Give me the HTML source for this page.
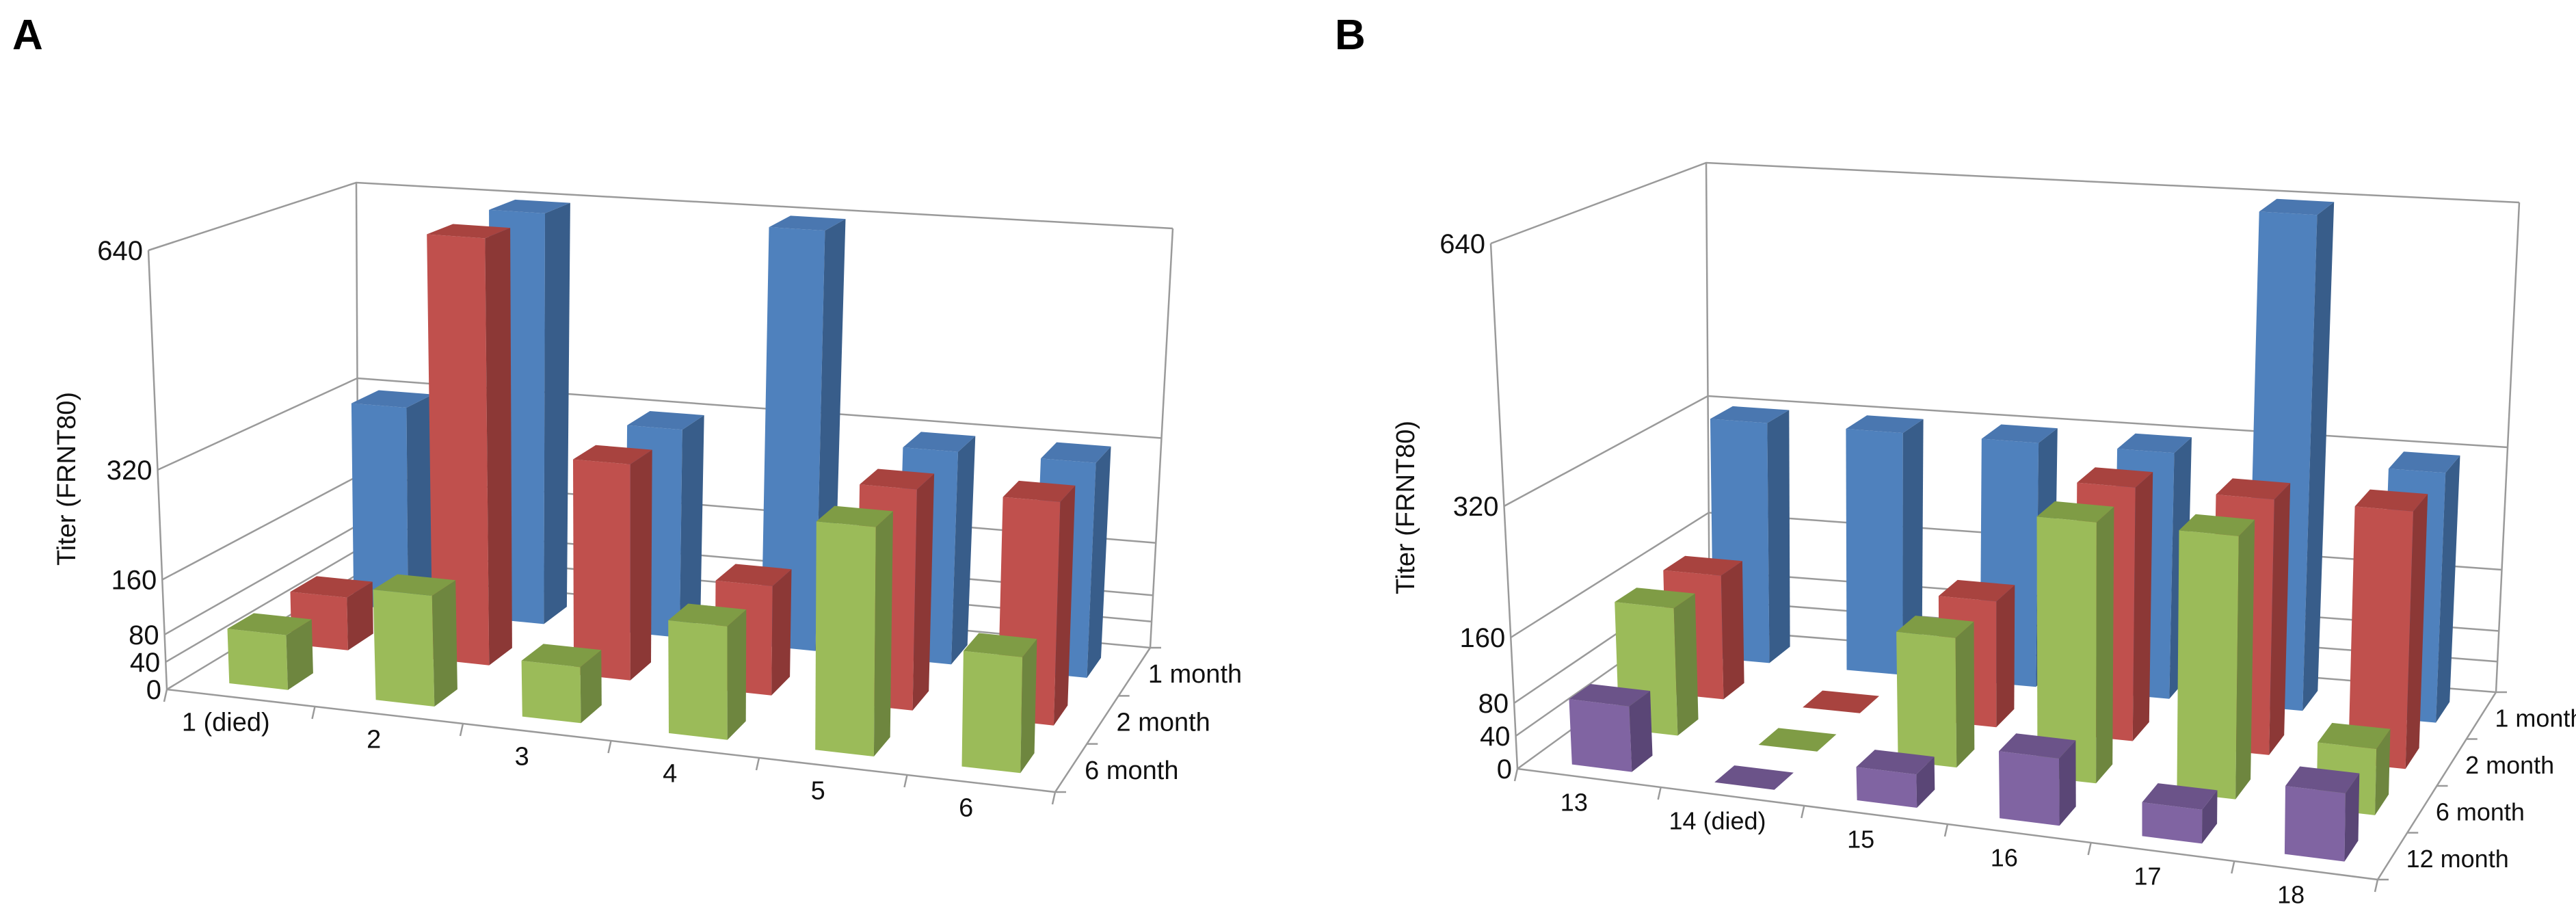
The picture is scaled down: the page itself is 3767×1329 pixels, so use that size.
<!DOCTYPE html>
<html><head><meta charset="utf-8"><style>
html,body{margin:0;padding:0;background:#fff;}
svg{display:block;font-family:"Liberation Sans",Arial,sans-serif;}
</style></head><body>
<svg id="chart" xmlns="http://www.w3.org/2000/svg" width="3767" height="1329" viewBox="0 0 3767 1329">
<rect width="3767" height="1329" fill="#fff"/>
<text x="18" y="72" font-size="62" font-weight="bold">A</text>
<text x="1952" y="72" font-size="62" font-weight="bold">B</text>
<text transform="translate(110,700) rotate(-90)" text-anchor="middle" font-size="38" fill="#111">Titer (FRNT80)</text>
<text transform="translate(2068,742) rotate(-90)" text-anchor="middle" font-size="38" fill="#111">Titer (FRNT80)</text>
<g id="pa"></g>
<g id="pb"></g>
</svg>
<script>
const ticksA = [0, 40, 80, 160, 320, 640];
const catsA = ["1 (died)", "2", "3", "4", "5", "6"];
const rowsA = ["6 month", "2 month", "1 month"];
const greenA = [80, 160, 80, 160, 320, 160];
const redA = [80, 640, 320, 160, 320, 320];
const blueA = [320, 640, 320, 640, 320, 320];

const ticksB = [0, 40, 80, 160, 320, 640];
const catsB = ["13", "14  (died)", "15", "16", "17", "18"];
const rowsB = ["12 month", "6 month", "2 month", "1 month"];
const purpleB = [80, 0, 40, 80, 40, 80];
const greenB = [160, 0, 160, 320, 320, 80];
const redB = [160, 0, 160, 320, 320, 320];
const blueB = [320, 320, 320, 320, 640, 320];

const NS = "http://www.w3.org/2000/svg";
const COLORS = {
  blue: ["#4F81BD", "#385D8A", "#4A77B0"],
  red: ["#C0504D", "#8C3836", "#A8433F"],
  green: ["#9BBB59", "#6E863F", "#7F9C45"],
  purple: ["#8064A2", "#5A4676", "#6B5389"]
};

function mk(parent, tag, attrs) {
  const el = document.createElementNS(NS, tag);
  for (const k in attrs) el.setAttribute(k, attrs[k]);
  parent.appendChild(el);
  return el;
}
function lerp(a, b, t) { return [a[0] + (b[0] - a[0]) * t, a[1] + (b[1] - a[1]) * t]; }
function bil(g, p, u, z) {
  const f = lerp(g[p + "F0"], g[p + "F1"], u), b = lerp(g[p + "B0"], g[p + "B1"], u);
  return lerp(f, b, z);
}
function proj(g, u, z, val) {
  const fl = bil(g, "", u, z), tp = bil(g, "T", u, z);
  return lerp(fl, tp, val / g.max);
}
function pts(a) { return a.map(p => p[0].toFixed(1) + "," + p[1].toFixed(1)).join(" "); }

function drawPanel(gid, g, ticks, cats, rows, series, seriesColors, key, W, D, fs) {
  const root = document.getElementById(gid);
  const grid = mk(root, "g", {stroke: "#9a9a9a", "stroke-width": 2.5, fill: "none"});
  
  
  ticks.forEach(t => {
    const l1 = mk(grid, "polyline", {points: pts([proj(g, 0, 0, t), proj(g, 0, 1, t), proj(g, 1, 1, t)])});
    
    
  });
  [[0, 0], [0, 1], [1, 1]].forEach(c => {
    const v = mk(grid, "line", {x1: proj(g, c[0], c[1], 0)[0], y1: proj(g, c[0], c[1], 0)[1], x2: proj(g, c[0], c[1], g.max)[0], y2: proj(g, c[0], c[1], g.max)[1]});
    
    
  });
  const fe = mk(grid, "polyline", {points: pts([proj(g, 0, 0, 0), proj(g, 1, 0, 0), proj(g, 1, 1, 0)])});
  
  
  for (let i = 0; i <= cats.length; i++) {
    const p = proj(g, i / cats.length, 0, 0);
    const tk = mk(grid, "line", {x1: p[0], y1: p[1], x2: p[0] - 4, y2: p[1] + 18});
    
    
  }
  for (let r = 0; r <= rows.length; r++) {
    const p = proj(g, 1, r / rows.length, 0);
    const tk = mk(grid, "line", {x1: p[0], y1: p[1], x2: p[0] + 16, y2: p[1]});
    
    
  }
  ticks.forEach(t => {
    const p = proj(g, 0, 0, t);
    const tx = mk(root, "text", {x: p[0] - 8, y: p[1] + 14, "text-anchor": "end", "font-size": 40, fill: "#111"});
    tx.textContent = t;
    
    
  });
  cats.forEach((c, i) => {
    const p = proj(g, (i + 0.5) / cats.length, 0, 0);
    const tx = mk(root, "text", {x: p[0] - 22, y: p[1] + 48, "text-anchor": "middle", "font-size": fs, fill: "#111", "xml:space": "preserve"});
    tx.textContent = c;
    
    
  });
  rows.forEach((r, i) => {
    const p = proj(g, 1, (i + 0.5) / rows.length, 0);
    const tx = mk(root, "text", {x: p[0] + 20, y: p[1] + 16, "font-size": fs, fill: "#111"});
    tx.textContent = r;
    
    
  });
  for (let r = rows.length - 1; r >= 0; r--) {
    const vals = series[r], col = COLORS[seriesColors[r]];
    for (let i = 0; i < cats.length; i++) {
      const v = vals[i];
      const u0 = (i + 0.5 - W / 2) / cats.length, u1 = (i + 0.5 + W / 2) / cats.length;
      const z0 = (r + 0.5 - D / 2) / rows.length, z1 = (r + 0.5 + D / 2) / rows.length;
      const bg = mk(root, "g", {});
      
      
      mk(bg, "polygon", {points: pts([proj(g, u0, z0, 0), proj(g, u1, z0, 0), proj(g, u1, z0, v), proj(g, u0, z0, v)]), fill: col[0]});
      mk(bg, "polygon", {points: pts([proj(g, u1, z0, 0), proj(g, u1, z1, 0), proj(g, u1, z1, v), proj(g, u1, z0, v)]), fill: col[1]});
      mk(bg, "polygon", {points: pts([proj(g, u0, z0, v), proj(g, u1, z0, v), proj(g, u1, z1, v), proj(g, u0, z1, v)]), fill: col[2]});
    }
  }
}

const geoA = {max: 640,
  F0: [244, 1008], F1: [1543, 1158], B0: [524, 839], B1: [1682, 947],
  TF0: [217, 366], TF1: [1555, 470], TB0: [521, 267], TB1: [1715, 334]};
const geoB = {max: 640,
  F0: [2219, 1124], F1: [3477, 1286], B0: [2500, 920], B1: [3650, 1012],
  TF0: [2180, 356], TF1: [3490, 480], TB0: [2495, 238], TB1: [3684, 296]};

drawPanel("pa", geoA, ticksA, catsA, rowsA, [greenA, redA, blueA], ["green", "red", "blue"], "a", 0.40, 0.42, 38);
drawPanel("pb", geoB, ticksB, catsB, rowsB, [purpleB, greenB, redB, blueB], ["purple", "green", "red", "blue"], "b", 0.42, 0.45, 36);
</script>
</body></html>
